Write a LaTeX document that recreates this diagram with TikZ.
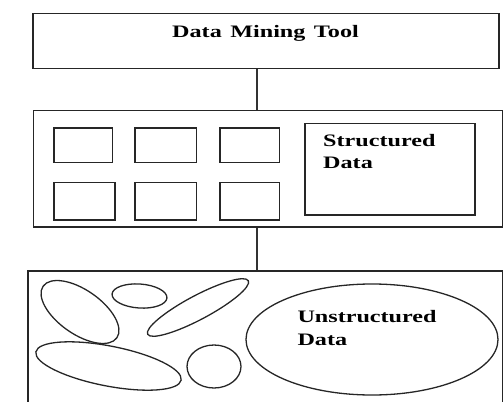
\documentclass[tikz,border=0pt]{standalone}
\usepackage{fontspec}
\newfontfamily\lblfont{Liberation Serif}[FakeStretch=1.38]
\begin{document}
\begin{tikzpicture}[x=1pt,y=-1pt,
  box/.style={draw=black!85, line width=1.7pt, inner sep=0pt, anchor=north west},
  blob/.style={draw=black!85, line width=1.3pt},
  lbl/.style={font=\lblfont\bfseries\fontsize{17.5}{22}\selectfont, inner sep=0pt, text=black},
  link/.style={draw=black!80, line width=1.6pt}]
\useasboundingbox (0,0) rectangle (504,402);
\clip (0,0) rectangle (504,402);
% boxes
\node[box, minimum width=466pt, minimum height=55.2pt] (tool) at (32,12.5) {};
\node[box, minimum width=469.2pt, minimum height=116.6pt] (mid) at (32.5,109.7) {};
\node[box, minimum width=474.4pt, minimum height=150pt] (bot) at (27.3,270) {};
% small squares
\node[box, minimum width=58.4pt, minimum height=34.4pt] (s1) at (53.3,127.3) {};
\node[box, minimum width=61.4pt, minimum height=34.4pt] (s2) at (134.3,127.3) {};
\node[box, minimum width=59.4pt, minimum height=34.4pt] (s3) at (219.3,127.3) {};
\node[box, minimum width=60.7pt, minimum height=37.6pt] (s4) at (53.3,181.7) {};
\node[box, minimum width=61.4pt, minimum height=37.6pt] (s5) at (134.3,181.7) {};
\node[box, minimum width=59.4pt, minimum height=37.6pt] (s6) at (219.3,181.7) {};
\node[box, minimum width=170pt, minimum height=91.6pt] (sd) at (304,122.7) {};
% connectors
\coordinate (cx) at (257,0);
\draw[link] (tool.south -| cx) -- (mid.north -| cx);
\draw[link] (mid.south -| cx) -- (bot.north -| cx);
% blobs
\draw[blob, rotate around={-35:(80,312)}] (80,312) ellipse [x radius=45, y radius=22];
\draw[blob, rotate around={-4:(139.5,296)}] (139.5,296) ellipse [x radius=27.5, y radius=12];
\draw[blob, rotate around={28:(198,307.5)}] (198,307.5) ellipse [x radius=57, y radius=12];
\draw[blob, rotate around={-11:(108.5,366)}] (108.5,366) ellipse [x radius=74, y radius=20];
\draw[blob] (214,366.5) ellipse [x radius=27, y radius=21.5];
\draw[blob] (372,339.5) ellipse [x radius=126, y radius=55.5];
% labels
\node[lbl, anchor=base, execute at begin node={\spaceskip=8.5pt\relax}] (t1) at (265.5,37.3) {Data Mining Tool};
\node[lbl, anchor=base west] (t2) at (323,146) {Structured};
\node[lbl, anchor=base west] (t3) at (323,168) {Data};
\node[lbl, anchor=base west] (t4) at (297.3,322.7) {Unstructured};
\node[lbl, anchor=base west] (t5) at (297.3,345) {Data};
\end{tikzpicture}
\end{document}
